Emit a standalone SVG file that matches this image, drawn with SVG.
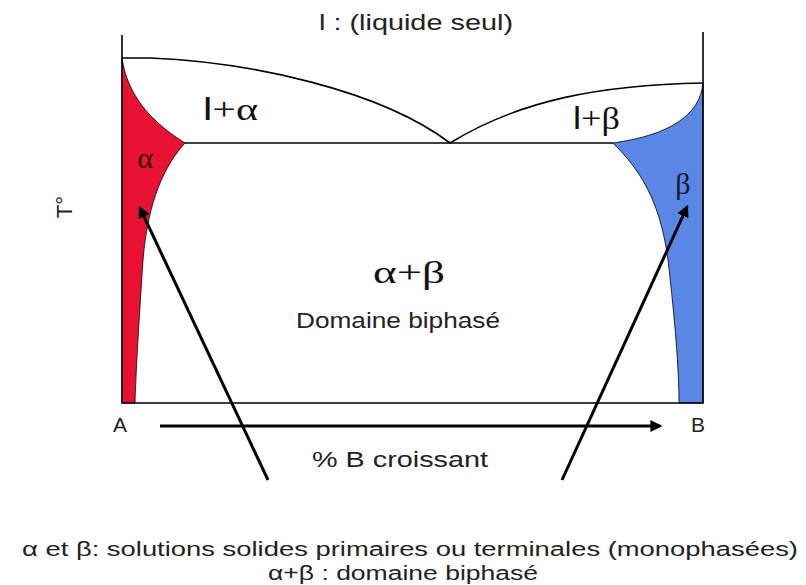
<svg xmlns="http://www.w3.org/2000/svg" width="806" height="585" viewBox="0 0 806 585">
<defs>
<style>
.t{font-family:"Liberation Sans",Arial,sans-serif;fill:#222}
.g{font-family:"Liberation Serif","Times New Roman",serif;fill:#111}
.ln{fill:none;stroke:#000;stroke-width:1.6}
.ar{fill:none;stroke:#000;stroke-width:3}
</style>
<marker id="ah" viewBox="0 0 10 10" refX="8" refY="5" markerWidth="4" markerHeight="4" orient="auto-start-reverse" markerUnits="strokeWidth">
<path d="M0,0 L10,5 L0,10 z" fill="#000"/>
</marker>
</defs>
<rect width="806" height="585" fill="#fff"/>
<g id="alpha-region">
<path d="M122,58 C126,85 140,115 185,143 C165,165 148,200 143,260 C139,320 136,370 135,403 L122,403 Z" fill="#EA1232" stroke="#000" stroke-width="0.8"/>
</g>
<g id="beta-region">
<path d="M703,83 C700,115 670,135 613,143 C640,170 660,200 668,260 C675,320 679,370 679,403 L703,403 Z" fill="#5A86E6" stroke="#000" stroke-width="0.8"/>
</g>
<g id="frame">
<path class="ln" d="M122,35 L122,403 L703,403 L703,32"/>
<path class="ln" d="M122,58 L150,58 C250,62 380,90 450,143 C520,100 600,85 703,83"/>
<path class="ln" d="M185,143 L613,143"/>
</g>
<g id="labels">
<text class="t" x="416" y="30" font-size="22" text-anchor="middle" textLength="194" lengthAdjust="spacingAndGlyphs">l : (liquide seul)</text>
<text class="g" x="203" y="120" font-size="32" textLength="55" lengthAdjust="spacingAndGlyphs"><tspan class="t" style="fill:#111">l</tspan>+α</text>
<text class="g" x="573" y="129" font-size="32" textLength="47" lengthAdjust="spacingAndGlyphs"><tspan class="t" style="fill:#111">l</tspan>+β</text>
<text class="g" x="145" y="168" font-size="30" text-anchor="middle" style="fill:#3a0008">α</text>
<text class="g" x="683" y="194" font-size="30" text-anchor="middle" style="fill:#101830">β</text>
<text class="t" x="0" y="0" font-size="22" text-anchor="middle" transform="translate(72,207) rotate(-90)">T°</text>
<text class="g" x="409" y="283" font-size="32" text-anchor="middle" textLength="72" lengthAdjust="spacingAndGlyphs">α+β</text>
<text class="t" x="398" y="328" font-size="22" text-anchor="middle" textLength="204" lengthAdjust="spacingAndGlyphs">Domaine biphasé</text>
<text class="t" x="120" y="432" font-size="21" text-anchor="middle">A</text>
<text class="t" x="698" y="432" font-size="21" text-anchor="middle">B</text>
<text class="t" x="400" y="467" font-size="22" text-anchor="middle" textLength="176" lengthAdjust="spacingAndGlyphs">% B croissant</text>
<text class="t" x="410" y="556" font-size="20" text-anchor="middle" textLength="776" lengthAdjust="spacingAndGlyphs">α et β: solutions solides primaires ou terminales (monophasées)</text>
<text class="t" x="403" y="580" font-size="20" text-anchor="middle" textLength="270" lengthAdjust="spacingAndGlyphs">α+β : domaine biphasé</text>
</g>
<g id="connectors">
<line class="ar" x1="160" y1="426" x2="660" y2="426" marker-end="url(#ah)"/>
<line class="ar" x1="268" y1="480" x2="140" y2="208" marker-end="url(#ah)"/>
<line class="ar" x1="562" y1="480" x2="687" y2="207" marker-end="url(#ah)"/>
</g>
</svg>
